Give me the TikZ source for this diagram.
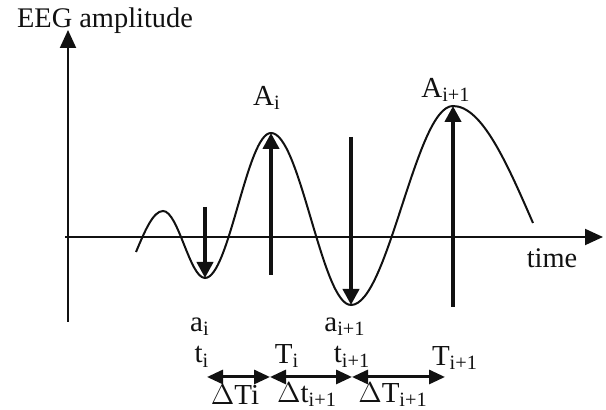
\documentclass[tikz,border=0pt]{standalone}
\usepackage{fontspec}
\setmainfont{Liberation Serif}
\usetikzlibrary{arrows.meta,calc}
\definecolor{Ink}{HTML}{111111}
\newcommand{\WaveLbl}[3]{%
  \node[font=\fontsize{14.5}{16}\selectfont,text=Ink,inner sep=0pt] (#1) at (#2) {#3};%
}

\begin{document}
\begin{tikzpicture}[x=0.5pt,y=0.5pt,
  axis/.style={draw=Ink,line width=1pt,-{Triangle[length=9pt,width=8pt]}},
  wave/.style={draw=Ink,line width=1pt},
  stem/.style={draw=Ink,line width=2pt,-{Triangle[length=8pt,width=8pt]}},
  span/.style={draw=Ink,line width=1.5pt,{Triangle[length=8pt,width=7pt]}-{Triangle[length=8pt,width=7pt]}}]
\useasboundingbox (0,0) rectangle (606,410);
\coordinate (yb) at (68,88);
\coordinate (yt) at (68,380);
\coordinate (xl) at (65,173);
\coordinate (xr) at (603,173);
\draw[axis] (yb) -- (yt);
\draw[axis] (xl) -- (xr);
\node[font=\fontsize{14.2}{16}\selectfont,text=Ink,inner sep=0pt] (ylab) at (105,389) {EEG amplitude};
\node[font=\fontsize{14.2}{16}\selectfont,text=Ink,inner sep=0pt] (xlab) at (552,152) {time};
\coordinate (w0) at (136,158);
\coordinate (e1) at (163,199);
\coordinate (e2) at (205,132);
\coordinate (e3) at (271,277);
\coordinate (e4) at (351,105);
\coordinate (e5) at (453,304);
\coordinate (w6) at (533,187);
\draw[wave] (w0) sin (e1) cos ($(e1)!.5!(e2)$) sin (e2) cos ($(e2)!.5!(e3)$) sin (e3)
  cos ($(e3)!.5!(e4)$) sin (e4) cos ($(e4)!.5!(e5)$) sin (e5) cos (w6);
\coordinate (aiTop) at (205,203);
\coordinate (AiBot) at (271,135);
\coordinate (aiiTop) at (351,273);
\coordinate (AiiBot) at (453,103);
\draw[stem] (aiTop) -- (e2);
\draw[stem] (AiBot) -- (e3);
\draw[stem] (aiiTop) -- (e4);
\draw[stem] (AiiBot) -- (e5);
\WaveLbl{Ai}{267,312}{A\textsubscript{i}}
\WaveLbl{Aii}{446,320}{A\textsubscript{i+1}}
\WaveLbl{ai}{200,83}{a\textsubscript{i}}
\WaveLbl{aii}{345,83}{a\textsubscript{i+1}}
\WaveLbl{ti}{202,53}{t\textsubscript{i}}
\WaveLbl{Ti}{287,54}{T\textsubscript{i}}
\WaveLbl{tii}{352,53}{t\textsubscript{i+1}}
\WaveLbl{Tii}{455,52}{T\textsubscript{i+1}}
\coordinate (p0) at (207,33);
\coordinate (p1) at (270,33);
\coordinate (p2) at (352,33);
\coordinate (p3) at (445,33);
\draw[span] (p0) -- (p1);
\draw[span] (p1) -- (p2);
\draw[span] (p2) -- (p3);
\WaveLbl{dTi}{235,15}{$\Delta$Ti}
\WaveLbl{dti}{307,15}{$\Delta$t\textsubscript{i+1}}
\WaveLbl{dTii}{393,15}{$\Delta$T\textsubscript{i+1}}
\end{tikzpicture}
\end{document}
